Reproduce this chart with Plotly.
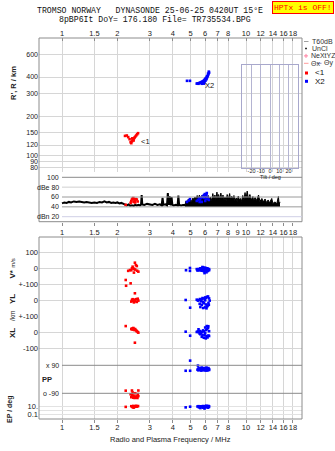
import math
import plotly.graph_objects as go

W, H = 335, 451
def px(x): return x / W
def py(y): return 1 - y / H

SANS = "Liberation Sans"
MONO = "Liberation Mono"
TXT = "#222222"
GRID = "#d6d6d6"
FRAME = "#8c8c8c"

# ---------------- data ----------------
top_ticks = [1, 1.5, 2, 3, 4, 5, 6, 7, 8, 10, 12, 14, 16, 18]
mid_ticks = [1, 1.5, 2, 3, 4, 5, 6, 7, 8, 9, 10, 12, 14, 16, 18]
bot_ticks = [1, 1.5, 2, 3, 4, 5, 6, 7, 8, 10, 12, 14, 16, 18]
r_ticks = [80, 90, 100, 120, 150, 200, 300, 400, 600, 800]
tilt_ticks = [-20, -10, 0, 10, 20]

# virtual height (km) vs frequency (MHz)
red_rh_f = [2.20, 2.25, 2.29, 2.33, 2.36, 2.38, 2.40, 2.42, 2.44, 2.46, 2.48, 2.50, 2.53, 2.56, 2.59, 2.41, 2.45]
red_rh_r = [141, 142, 138, 133, 126, 124, 128, 131, 133, 135, 137, 139, 142, 145, 148, 135, 130]
blue_rh_f = [4.78, 4.96, 5.40, 5.46, 5.52, 5.58, 5.64, 5.70, 5.76, 5.82, 5.88, 5.94, 6.00, 6.06, 6.12,
             5.75, 5.85, 5.95, 6.02, 6.10, 6.16, 6.20, 6.25, 6.30, 6.05, 6.14, 6.22, 6.28, 5.90]
blue_rh_r = [374, 374, 356, 358, 355, 360, 362, 364, 368, 370, 374, 380, 384, 390, 398,
             355, 360, 365, 375, 385, 400, 410, 420, 432, 392, 405, 425, 440, 356]

# amplitude (dB)
noise_f = [1.00, 1.03, 1.06, 1.09, 1.12, 1.16, 1.20, 1.24, 1.28, 1.32, 1.36, 1.40, 1.45, 1.50, 1.55,
           1.60, 1.65, 1.70, 1.75, 1.80, 1.85, 1.90, 1.95, 2.00, 2.05, 2.10, 2.15, 2.20, 2.25, 2.30,
           2.35, 2.40, 2.45, 2.50, 2.55, 2.60, 2.65, 2.69, 2.71, 2.73, 2.80, 2.90, 3.00, 3.10, 3.20,
           3.30, 3.40, 3.48, 3.52, 3.56, 3.65, 3.72, 3.76, 3.80, 3.84, 3.90, 3.94, 3.98, 4.05, 4.15,
           4.25, 4.29, 4.33, 4.45, 4.55, 4.66]
noise_db = [47, 49, 48, 50, 49, 51, 50, 51, 50, 49, 50, 49, 48, 49, 48,
            50, 49, 51, 49, 50, 48, 49, 48, 49, 47, 48, 46, 44, 43, 45,
            42, 43, 42, 44, 43, 44, 43, 45, 64, 45, 44, 46, 45, 44, 46,
            44, 45, 43, 58, 44, 45, 43, 68, 44, 62, 43, 60, 44, 43, 44,
            43, 63, 44, 43, 44, 44]
burst_f = [4.66, 4.72, 4.78, 4.86, 4.92, 5.00, 5.07, 5.15, 5.22, 5.28, 5.35, 5.43, 5.51, 5.58, 5.66,
           5.74, 5.82, 5.90, 5.99, 6.06, 6.15, 6.24, 6.32, 6.40, 6.51, 6.60, 6.68, 6.78, 6.86, 6.95,
           7.02, 7.10, 7.20, 7.30, 7.38, 7.50, 7.60, 7.69, 7.80, 7.90, 8.02, 8.15, 8.25, 8.36, 8.50,
           8.60, 8.71, 8.85, 8.95, 9.08, 9.20, 9.35, 9.47, 9.60, 9.75, 9.88, 10.0, 10.15, 10.3, 10.5,
           10.7, 10.9, 11.0, 11.2, 11.4, 11.7, 11.9, 12.2, 12.4, 12.7, 12.9, 13.2, 13.4, 13.8, 14.0,
           14.4, 14.7, 15.0, 15.15, 15.3]
burst_db = [44, 52, 47, 56, 50, 55, 51, 58, 53, 60, 55, 63, 57, 64, 56,
            63, 56, 65, 58, 64, 57, 63, 54, 60, 53, 67, 56, 64, 54, 70,
            57, 65, 55, 68, 57, 64, 54, 60, 53, 65, 56, 67, 54, 62, 56,
            63, 53, 58, 51, 62, 54, 57, 51, 63, 54, 69, 56, 72, 57, 65,
            54, 61, 52, 59, 53, 64, 51, 57, 50, 56, 49, 54, 48, 57, 47,
            50, 46, 61, 45, 50]
burst_base_f = [4.66, 15.3]
burst_base_db = [41, 41]
red_amp_f = [2.22, 2.36, 2.38, 2.40, 2.42, 2.44, 2.46, 2.48, 2.50, 2.52, 2.55, 2.58, 2.45, 2.50]
red_amp_db = [44, 48, 52, 55, 57, 58, 56, 52, 54, 56, 55, 51, 50, 49]
blue_amp_f = [4.78, 4.96, 4.90, 5.40, 5.48, 5.55, 5.62, 5.70, 5.78, 5.85, 5.92, 5.98, 6.04, 6.10,
              6.16, 6.22, 6.28, 5.75, 5.90, 6.05, 6.12, 5.60, 6.00]
blue_amp_db = [50, 56, 53, 52, 54, 57, 55, 58, 60, 62, 64, 66, 62, 65,
               60, 56, 54, 50, 58, 56, 68, 50, 52]

# V* (m/s)
red_v_f = [2.22, 2.23, 2.36, 2.29, 2.34, 2.38, 2.42, 2.44, 2.46, 2.49, 2.52, 2.55, 2.56, 2.60, 2.47, 2.50, 2.40]
red_v = [-73, -109, -94, -16, -11, -12, 10, 0, -27, 35, 20, 14, -15, -21, -5, -8, 0]
blue_v_f = [4.72, 4.96, 4.96, 5.40, 5.45, 5.50, 5.55, 5.60, 5.65, 5.70, 5.75, 5.80, 5.85, 5.90, 5.95, 6.00,
            6.05, 6.10, 6.15, 6.20, 6.25, 6.30, 5.45, 5.60, 5.75, 5.90, 6.05, 6.20, 5.95, 6.10, 5.80, 6.30]
blue_v = [-12, 2, -16, -5, -8, -10, -4, -7, 0, -10, -6, 3, 5, -2, -12, 4,
          -6, -9, 0, -3, -10, -5, -14, -13, -15, -18, -16, -17, -30, -25, 8, -12]

# YL (km)
red_yl_f = [2.38, 2.40, 2.42, 2.44, 2.46, 2.48, 2.50, 2.53, 2.55, 2.58, 2.60, 2.49]
red_yl = [-10, 0, 5, -5, -15, 2, -8, 5, -12, 8, -4, 42]
blue_yl_f = [4.70, 4.97, 5.40, 5.48, 5.55, 5.62, 5.70, 5.78, 5.85, 5.92, 6.00, 6.08, 6.15, 6.22, 6.30,
             6.35, 5.60, 5.75, 5.90, 6.05, 6.20, 5.65, 5.85, 6.00, 6.15, 6.28, 6.10, 6.25, 5.80, 6.00]
blue_yl = [0, -48, 2, -4, 0, 6, -8, 4, -14, 10, -2, 14, 20, 22, 10,
           -4, -24, -30, -20, -28, -34, -44, -50, -46, -40, -30, -52, -18, 12, 16]

# XL (km)
red_xl_f = [2.22, 2.38, 2.40, 2.42, 2.44, 2.46, 2.48, 2.50, 2.53, 2.55, 2.58, 2.60, 2.49]
red_xl = [37, 18, 22, 15, 25, 20, 12, 18, 10, 4, 0, -4, -67]
blue_xl_f = [4.70, 4.97, 5.40, 5.47, 5.55, 5.62, 5.70, 5.78, 5.85, 5.92, 6.00, 6.08, 6.15, 6.22, 6.30,
             5.52, 5.65, 5.80, 5.95, 6.10, 6.25, 5.75, 5.90, 6.05, 6.18, 6.12, 6.24, 6.00, 5.60, 6.30]
blue_xl = [2, -23, 0, 4, -2, 6, -5, 2, 10, 4, -8, 12, 20, 26, 5,
           17, -14, -18, -20, -26, -22, -30, -36, -40, -34, 37, 36, 28, -10, -25]

# PP (deg)
red_pp_f = [2.22, 2.40, 2.60, 2.36, 2.40, 2.43, 2.46, 2.50, 2.53, 2.56, 2.60, 2.38, 2.44, 2.48, 2.52, 2.57, 2.42, 2.50, 2.58]
red_pp = [-73, -72, -72, -96, -100, -104, -110, -112, -112, -110, -108, -115, -118, -120, -118, -120, -85, -90, -95]
blue_pp_f = [4.70, 4.97, 4.97, 5.45, 5.50, 5.55, 5.60, 5.65, 5.70, 5.75, 5.80, 5.85, 5.90, 5.95, 6.00, 6.05,
             6.10, 6.15, 6.20, 6.25, 6.30, 5.50, 5.60, 5.70, 5.80, 5.90, 6.00, 6.10, 6.20, 6.30, 5.48]
blue_pp = [55, 55, 120, 62, 68, 72, 70, 66, 72, 75, 70, 68, 72, 66, 70, 72,
           75, 70, 68, 72, 65, 58, 60, 56, 58, 60, 57, 56, 58, 60, 88]

# EP (deg)
red_ep_f = [2.22, 2.38, 2.41, 2.44, 2.47, 2.50, 2.53, 2.56, 2.59, 2.42, 2.48, 2.54, 2.45]
red_ep = [8, 12, 10, 14, 9, 12, 15, 10, 13, 7, 8, 9, 5]
blue_ep_f = [4.70, 4.97, 5.45, 5.52, 5.60, 5.68, 5.76, 5.84, 5.92, 6.00, 6.08, 6.16, 6.24, 6.30,
             5.55, 5.70, 5.85, 6.00, 6.15, 6.28, 5.65, 5.95, 6.20]
blue_ep = [6, 9, 10, 12, 9, 11, 8, 13, 10, 12, 16, 10, 14, 11,
           6, 7, 5, 6, 8, 7, 4, 3, 5]

# ---------------- geometry ----------------
XL_PX, XR_PX = 39, 302
F_ANCHOR, DEC_PX = 62, 184.0          # 1 MHz at x=62, 184 px per decade
XRANGE = [(XL_PX - F_ANCHOR) / DEC_PX, (XR_PX - F_ANCHOR) / DEC_PX]
XDOM = [px(XL_PX), px(XR_PX)]

def logR(y):  # R' axis: 100 km at y=155.3, 130 px/decade
    return 2 + (155.3 - y) / 130.0

def lin(y, y0, v0, ppu):  # linear axis value at pixel y
    return v0 + (y0 - y) / ppu

def tt(v):
    return ("%g" % v)

fig = go.Figure()

def sc(x, y, color, xa, ya, size=2.6):
    fig.add_trace(go.Scatter(x=x, y=y, mode="markers", xaxis=xa, yaxis=ya,
                             marker=dict(symbol="square", size=size, color=color, line=dict(width=0)),
                             showlegend=False, hoverinfo="skip"))

def dummy(xa, ya):
    fig.add_trace(go.Scatter(x=[None], y=[None], mode="markers", xaxis=xa, yaxis=ya,
                             showlegend=False, hoverinfo="skip"))

RED, BLUE = "#ff0000", "#0000ff"

# top panel
sc(red_rh_f, red_rh_r, RED, "x", "y")
sc(blue_rh_f, blue_rh_r, BLUE, "x", "y")

# amplitude panel
fig.add_trace(go.Scatter(x=noise_f, y=noise_db, mode="lines", xaxis="x2", yaxis="y2",
                         line=dict(color="black", width=2), showlegend=False, hoverinfo="skip"))
fig.add_trace(go.Scatter(x=burst_base_f, y=burst_base_db, mode="lines", xaxis="x2", yaxis="y2",
                         line=dict(color="black", width=1.5), showlegend=False, hoverinfo="skip"))
fig.add_trace(go.Scatter(x=burst_f, y=burst_db, mode="lines", xaxis="x2", yaxis="y2", fill="tonexty",
                         fillcolor="black", line=dict(color="black", width=1), showlegend=False,
                         hoverinfo="skip"))
sc(red_amp_f, red_amp_db, RED, "x2", "y2")
sc(blue_amp_f, blue_amp_db, BLUE, "x2", "y2")

# lower panels
dummy("x3", "y3")
dummy("x4", "y3")
sc(red_v_f, red_v, RED, "x3", "y4")
sc(blue_v_f, blue_v, BLUE, "x3", "y4")
sc(red_yl_f, red_yl, RED, "x3", "y5")
sc(blue_yl_f, blue_yl, BLUE, "x3", "y5")
sc(red_xl_f, red_xl, RED, "x3", "y6")
sc(blue_xl_f, blue_xl, BLUE, "x3", "y6")
sc(red_pp_f, red_pp, RED, "x3", "y7")
sc(blue_pp_f, blue_pp, BLUE, "x3", "y7")
sc(red_ep_f, red_ep, RED, "x3", "y8")
sc(blue_ep_f, blue_ep, BLUE, "x3", "y8")

# tilt inset (empty)
dummy("x5", "y9")

tf = dict(family=SANS, size=7.5, color=TXT)
common_x = dict(type="log", range=XRANGE, domain=XDOM, showline=False, zeroline=False,
                tickfont=tf, fixedrange=True, tickcolor=FRAME, tickangle=0, automargin=False)
common_y = dict(zeroline=False, fixedrange=True, tickangle=0, automargin=False)

layout = dict(
    width=W, height=H, margin=dict(l=0, r=0, t=0, b=0, autoexpand=False),
    paper_bgcolor="white", plot_bgcolor="rgba(0,0,0,0)", showlegend=False,
    xaxis=dict(common_x, anchor="y", side="top", tickvals=top_ticks, ticktext=[tt(v) for v in top_ticks],
               ticks="inside", ticklen=3, showgrid=True, gridcolor=GRID, gridwidth=1),
    yaxis=dict(common_y, type="log", domain=[py(172), py(38)], range=[logR(172), logR(38)], anchor="x",
               tickvals=r_ticks, ticktext=[tt(v) for v in r_ticks], showgrid=True, gridcolor=GRID,
               tickfont=dict(family=SANS, size=7, color=TXT), ticks=""),
    xaxis2=dict(common_x, anchor="y2", side="bottom", tickvals=mid_ticks, ticktext=[tt(v) for v in mid_ticks],
                ticks="outside", ticklen=3, showgrid=False),
    yaxis2=dict(common_y, domain=[py(221.7), py(173)],
                range=[lin(221.7, 177.3, 100, 0.4925), lin(173, 177.3, 100, 0.4925)],
                anchor="x2", showgrid=False, showticklabels=False),
    xaxis3=dict(common_x, anchor="y3", side="bottom", tickvals=bot_ticks, ticktext=[tt(v) for v in bot_ticks],
                ticks="outside", ticklen=3, showgrid=True, gridcolor=GRID, ticklabelstandoff=-2),
    xaxis4=dict(common_x, anchor="y3", overlaying="x3", side="top", tickvals=bot_ticks, ticks="inside",
                ticklen=3, showticklabels=False, showgrid=False),
    yaxis3=dict(common_y, domain=[py(419), py(237)], range=[0, 1], anchor="x3", showgrid=False,
                showticklabels=False),
    yaxis4=dict(common_y, domain=[py(290), py(237)], range=[lin(290, 268.3, 0, 0.16), lin(237, 268.3, 0, 0.16)],
                anchor="x3", tickvals=[100, 0, -100], ticktext=["100", "0", "+-100"], showgrid=True,
                gridcolor=GRID, tickfont=tf, ticks=""),
    yaxis5=dict(common_y, domain=[py(316), py(284)], range=[-100, 100], anchor="x3", tickvals=[0, -100],
                ticktext=["0", "+-100"], showgrid=True, gridcolor=GRID, tickfont=tf, ticks=""),
    yaxis6=dict(common_y, domain=[py(356), py(316)], range=[lin(356, 332, 0, 0.16), lin(316, 332, 0, 0.16)],
                anchor="x3", tickvals=[0, -100], ticktext=["0", "-100"], showgrid=True, gridcolor=GRID,
                tickfont=tf, ticks=""),
    yaxis7=dict(common_y, domain=[py(400), py(356)],
                range=[lin(400, 365.3, 90, 0.1556), lin(356, 365.3, 90, 0.1556)],
                anchor="x3", showgrid=False, showticklabels=False),
    yaxis8=dict(common_y, type="log", domain=[py(419), py(400)],
                range=[1 + (406.5 - 419) / 3.9, 1 + (406.5 - 400) / 3.9],
                anchor="x3", tickvals=[10, 1, 0.1], ticktext=["10.", "", "0.1"], showgrid=True,
                gridcolor="#e2e2e2", tickfont=tf, ticks=""),
    xaxis5=dict(domain=[px(242.3), px(297.7)], range=[-30, 30], anchor="y9", tickvals=tilt_ticks,
                ticktext=[tt(v) for v in tilt_ticks], showgrid=True, gridcolor="#b4b4d2", zeroline=False,
                showline=True, mirror=True, linecolor="#a8a8cc", ticks="", tickangle=0, automargin=False,
                ticklabelstandoff=-3,
                tickfont=dict(family=SANS, size=5.5, color=TXT), fixedrange=True),
    yaxis9=dict(common_y, domain=[py(168.3), py(65)], range=[0, 1], anchor="x5", showgrid=False,
                showticklabels=False, showline=True, mirror=True, linecolor="#a8a8cc"),
)
fig.update_layout(**layout)

shapes = []
def rect(x0, y0, x1, y1, color=FRAME, w=1, fill=None):
    shapes.append(dict(type="rect", xref="paper", yref="paper", x0=px(x0), x1=px(x1), y0=py(y0), y1=py(y1),
                       line=dict(color=color, width=w), fillcolor=fill if fill else "rgba(0,0,0,0)"))
def hline_data(yref, v, color, x0=62, x1=302, w=1):
    shapes.append(dict(type="line", xref="paper", yref=yref, x0=px(x0), x1=px(x1), y0=v, y1=v,
                       line=dict(color=color, width=w)))
def seg(x0, y0, x1, y1, color, w=1):
    shapes.append(dict(type="line", xref="paper", yref="paper", x0=px(x0), x1=px(x1), y0=py(y0), y1=py(y1),
                       line=dict(color=color, width=w)))

rect(XL_PX, 38, XR_PX, 221.7)
rect(XL_PX, 237, XR_PX, 419)
# amplitude reference lines
hline_data("y2", 100, "#8a8a8a")
hline_data("y2", 80, "#cfcfcf")
hline_data("y2", 60, "#9a9a9a")
hline_data("y2", 40, "#9a9a9a")
hline_data("y2", 20, "#cfcfe6")
# PP lines
hline_data("y7", 90, "#8a8a8a")
hline_data("y7", -90, "#8a8a8a")

# legend symbols
seg(304, 41.5, 308.5, 41.5, "#a0a0a0")
rect(305.5, 48, 306.5, 49, color="#333333", w=1, fill="#333333")
seg(304, 55.9, 308, 55.9, "#ff7fa0")
seg(306, 53.9, 306, 57.9, "#ff7fa0")
seg(304, 63.3, 308.5, 63.3, "#ff9a9a")
seg(317, 63.3, 321.5, 63.3, "#8c8cd0")
rect(305, 71.5, 308, 74.5, color=RED, w=0, fill=RED)
rect(305, 79.8, 308, 82.8, color=BLUE, w=0, fill=BLUE)
fig.update_layout(shapes=shapes)

anns = []
def ann(text, x, y, size=7.5, xanchor="center", yanchor="middle", color=TXT, angle=0, family=SANS,
        xref="paper", yref="paper", **kw):
    d = dict(text=text, x=px(x) if xref == "paper" else x, y=py(y) if yref == "paper" else y,
             xref=xref, yref=yref, xanchor=xanchor, yanchor=yanchor, showarrow=False, textangle=angle,
             font=dict(family=family, size=size, color=color))
    d.update(kw)
    anns.append(d)

NB = "\u00a0"
ann("TROMSO" + NB + "NORWAY" + NB * 3 + "DYNASONDE" + NB + "25-06-25" + NB + "0420UT" + NB + "15°E",
    35, 10.3, size=8.2, xanchor="left", family=MONO, color="#111111")
ann("8pBP6It" + NB + "DoY=" + NB + "176.180" + NB + "File=" + NB + "TR735534.BPG",
    57, 20, size=8.2, xanchor="left", family=MONO, color="#111111")
ann("HPTx" + NB + "is" + NB + "OFF!", 302.5, 7.5, size=8, family=MONO, color="#ff0000",
    bgcolor="#ffff00", bordercolor="#ff0000", borderwidth=1, borderpad=1)

# axis titles
ann("<b>R', R / km</b>", 13, 83, size=7.5, angle=-90)
ann("<b>V*</b> <span style='font-size:6px'>m/s</span>", 12, 268.5, size=8, angle=-90)
ann("<b>YL</b>", 12, 299, size=8, angle=-90)
ann("/km", 12, 316, size=6.5, angle=-90)
ann("<b>XL</b>", 12, 333, size=8, angle=-90)
ann("<b>PP</b>", 47, 379.3, size=7.5)
ann("<b>EP / deg</b>", 10, 409, size=7, angle=-90)
ann("Radio and Plasma Frequency / MHz", 170.5, 439, size=7.5)
ann("Tilt / deg", 270, 176.5, size=5.5)

# amplitude labels
for v, s in [(100, "100"), (80, "dBe 80"), (60, "60"), (40, "40"), (20, "dBn 20")]:
    ann(s, 61, v, size=7, xanchor="right", yref="y2")
ann("x 90", 61, 90, size=7, xanchor="right", yref="y7")
ann("o -90", 61, -90, size=7, xanchor="right", yref="y7")

# trace labels
ann("<1", 138.5, 141.5, size=7.5, xanchor="left", color="#111111")
ann("X2", 203, 85.5, size=7.5, xanchor="left", color="#111111")

# legend texts
ann("T60dB", 309.5, 41.5, size=7, xanchor="left", color="#333333")
ann("UnCl", 309.5, 48.3, size=7, xanchor="left", color="#333333")
ann("NeXtYZ", 309, 55.9, size=7, xanchor="left", color="#333333")
ann("Θx", 309, 63.3, size=7, xanchor="left", color="#333333")
ann("Θy", 322, 63.3, size=7, xanchor="left", color="#333333")
ann("<1", 312.5, 72.7, size=8, xanchor="left", color="#111111")
ann("X2", 312.5, 81.2, size=8, xanchor="left", color="#111111")

fig.update_layout(annotations=anns)
fig.write_html("out.html")
